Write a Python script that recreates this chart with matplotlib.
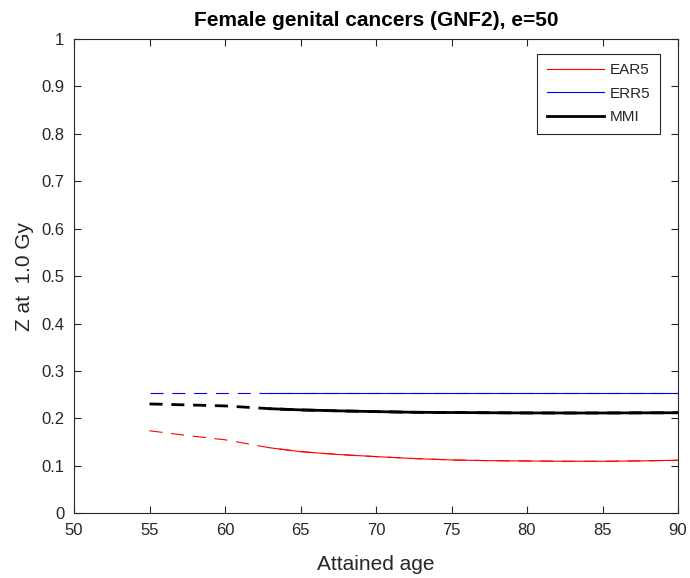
import matplotlib
matplotlib.use("Agg")
import matplotlib.pyplot as plt
import numpy as np

plt.rcParams['font.family'] = ['Liberation Sans', 'DejaVu Sans']

age = [55, 57.5, 60, 63, 65, 67.5, 70, 72.5, 75, 77.5, 80, 82.5, 85, 87.5, 90]
ear5 = [0.174, 0.164, 0.155, 0.138, 0.130, 0.124, 0.1195, 0.1155, 0.1125, 0.111, 0.1103, 0.1097, 0.1096, 0.1105, 0.1118]
err5 = [0.2544] * len(age)
mmi = [0.2306, 0.2285, 0.2264, 0.2205, 0.218, 0.216, 0.2144, 0.213, 0.2125, 0.212, 0.2116, 0.2115, 0.2115, 0.2118, 0.212]
solid_start = 63
xticks = [50, 55, 60, 65, 70, 75, 80, 85, 90]
yticks = [0, 0.1, 0.2, 0.3, 0.4, 0.5, 0.6, 0.7, 0.8, 0.9, 1]
ytick_labels = ['0', '0.1', '0.2', '0.3', '0.4', '0.5', '0.6', '0.7', '0.8', '0.9', '1']

fig = plt.figure(figsize=(6.9, 5.78), dpi=100)
ax = fig.add_axes([74 / 690, 1 - 513.3 / 578, 604 / 690, 474.3 / 578])

a = np.array(age)
mask = a >= solid_start
for vals, col, lw, lab in [(ear5, '#ff0000', 0.8, 'EAR5'), (err5, '#0000ff', 0.8, 'ERR5'), (mmi, 'black', 2.0, 'MMI')]:
    v = np.array(vals)
    ax.plot(a, v, color=col, lw=lw, linestyle=(0, (9.4 / lw, 6.3 / lw)), dash_capstyle='butt')
    ax.plot(a[mask], v[mask], color=col, lw=lw, label=lab)

ax.set_xlim(50, 90)
ax.set_ylim(0, 1)
ax.set_xticks(xticks)
ax.set_yticks(yticks)
ax.set_yticklabels(ytick_labels)
ax.tick_params(direction='in', top=True, right=True, labelsize=12, color='#262626',
               labelcolor='#262626', length=5, width=0.8, pad=7)
for s in ax.spines.values():
    s.set_color('#262626')
    s.set_linewidth(0.8)
ax.set_xlabel('Attained age', fontsize=15, color='#262626')
ax.set_ylabel('Z at  1.0 Gy', fontsize=15, color='#262626')
ax.xaxis.set_label_coords(0.5, -0.087)
ax.yaxis.set_label_coords(-0.066, 0.5)
ax.set_title('Female genital cancers (GNF2), e=50', fontsize=15, fontweight='bold', pad=9)
leg = ax.legend(loc='upper right', bbox_to_anchor=(0.970, 0.969), borderaxespad=0, fancybox=False,
                edgecolor='#262626', fontsize=11, handlelength=3.7, handletextpad=0.4,
                borderpad=0.63, labelspacing=0.62, framealpha=1)
leg.get_frame().set_linewidth(0.8)
for t in leg.get_texts():
    t.set_color('#262626')

fig.savefig('out.png', dpi=100)
